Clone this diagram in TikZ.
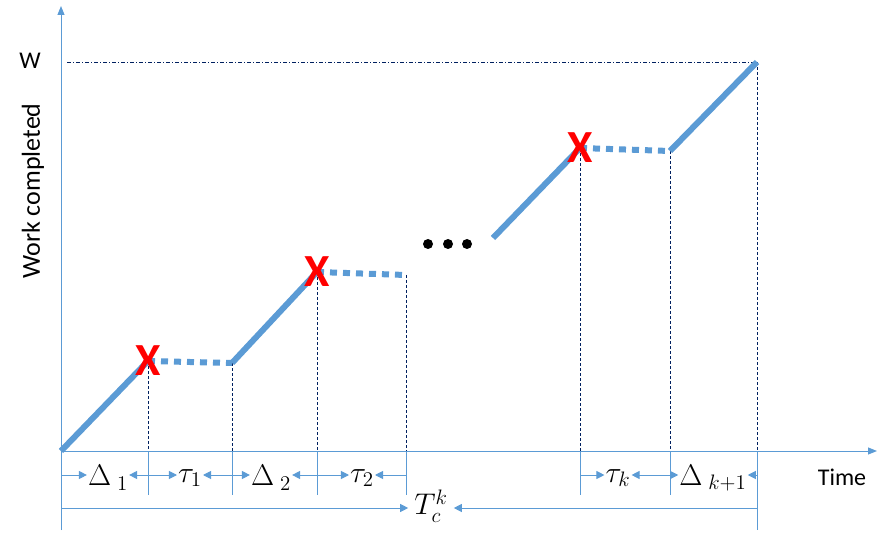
\RequirePackage{fix-cm}
\documentclass[tikz,border=0pt]{standalone}
\usepackage{fontspec}
\setmainfont{Carlito}
\usepackage{tikz}
\usetikzlibrary{arrows.meta,positioning,calc}
\definecolor{workblue}{RGB}{91,155,213}
\definecolor{guidenavy}{RGB}{0,32,96}
\definecolor{failred}{RGB}{255,0,0}
\newcommand{\mlab}[1]{\scalebox{1.3}{$#1$}}

\begin{document}
\begin{tikzpicture}[
    x=1pt, y=-1pt,
    font=\fontsize{24}{28}\selectfont,
    axisline/.style={draw=workblue, line width=1pt, -{Triangle[length=9pt,width=7pt]}},
    progress/.style={draw=workblue, line width=6pt},
    idle/.style={draw=workblue, line width=6pt, dash pattern=on 7pt off 6pt},
    guide/.style={draw=guidenavy, line width=0.8pt, dash pattern=on 3pt off 2pt},
    levelguide/.style={draw=guidenavy, line width=0.8pt, dash pattern=on 4pt off 2pt on 1pt off 2pt},
    marker/.style={draw=workblue, line width=1pt},
    spanarrow/.style={draw=workblue, line width=1pt, -{Triangle[length=8pt,width=8pt]}},
    failmark/.style={text=failred, font=\fontsize{46}{46}\selectfont\bfseries, inner sep=0pt},
    lbl/.style={font=\fontsize{23}{26}\selectfont, inner sep=1pt}
]
    \useasboundingbox (0,0) rectangle (884,540);

    \coordinate (o) at (61,451);
    \coordinate (ytop) at (61,6);
    \coordinate (ybot) at (61,530);
    \coordinate (xend) at (877,451);
    \coordinate (f1) at (148,361);
    \coordinate (r1) at (232,363);
    \coordinate (f2) at (317,272);
    \coordinate (r2) at (406,275);
    \coordinate (q) at (493,238);
    \coordinate (f3) at (580,148);
    \coordinate (r3) at (670,151);
    \coordinate (e) at (757,62);
    \coordinate (tickbot) at (61,495);
    \coordinate (arrlvl) at (61,475);
    \coordinate (totlvl) at (61,508);

    \draw[axisline] (ybot) -- (ytop);
    \draw[axisline] (o) -- (xend);
    \draw[levelguide] ([xshift=6pt]e -| o) -- (e);

    \node (wlab) at (30,61) {W};
    \node[rotate=90, font=\fontsize{26}{30}\selectfont] (ylab) at (33,191) {Work completed};
    \node (tlab) at (842,477) {Time};

    \draw[guide] (f1) -- (f1 |- o);
    \draw[guide] (r1) -- (r1 |- o);
    \draw[guide] (f2) -- (f2 |- o);
    \draw[guide] (r2) -- (r2 |- o);
    \draw[guide] (f3) -- (f3 |- o);
    \draw[guide] (r3) -- (r3 |- o);
    \draw[guide] (e) -- (e |- o);

    \draw[marker] (f1 |- o) -- (f1 |- tickbot);
    \draw[marker] (r1 |- o) -- (r1 |- tickbot);
    \draw[marker] (f2 |- o) -- (f2 |- tickbot);
    \draw[marker] (r2 |- o) -- (r2 |- tickbot);
    \draw[marker] (f3 |- o) -- (f3 |- tickbot);
    \draw[marker] (r3 |- o) -- (r3 |- tickbot);
    \draw[marker] (e |- o) -- (e |- ybot);

    \draw[progress] (o) -- (f1);
    \draw[idle] (f1) -- (r1);
    \draw[progress] (r1) -- (f2);
    \draw[idle] (f2) -- (r2);
    \draw[progress] (q) -- (f3);
    \draw[idle] (f3) -- (r3);
    \draw[progress] (r3) -- (e);

    \fill (428,244) circle (5pt) (448,244) circle (5pt) (467,244) circle (5pt);

    \node[failmark] (x1) at (f1) {X};
    \node[failmark] (x2) at (f2) {X};
    \node[failmark] (x3) at (f3) {X};

    \node[lbl] (d1) at (108,478) {\mlab{\Delta_{\;1}}};
    \node[lbl] (tau1) at (190,478) {\mlab{\tau_1}};
    \node[lbl] (d2) at (271,478) {\mlab{\Delta_{\;2}}};
    \node[lbl] (tau2) at (362,478) {\mlab{\tau_2}};
    \node[lbl] (tauk) at (618,478) {\mlab{\tau_k}};
    \node[lbl] (dk1) at (713,478) {\mlab{\Delta_{\;k+1}}};
    \node[lbl, inner sep=6pt] (tc) at (431,506) {\mlab{T_c^k}};

    \draw[spanarrow] (o |- arrlvl) -- (d1.west |- arrlvl);
    \draw[spanarrow] (f1 |- arrlvl) -- (d1.east |- arrlvl);
    \draw[spanarrow] (f1 |- arrlvl) -- (tau1.west |- arrlvl);
    \draw[spanarrow] (r1 |- arrlvl) -- (tau1.east |- arrlvl);
    \draw[spanarrow] (r1 |- arrlvl) -- (d2.west |- arrlvl);
    \draw[spanarrow] (f2 |- arrlvl) -- (d2.east |- arrlvl);
    \draw[spanarrow] (f2 |- arrlvl) -- (tau2.west |- arrlvl);
    \draw[spanarrow] (r2 |- arrlvl) -- (tau2.east |- arrlvl);
    \draw[spanarrow] (f3 |- arrlvl) -- (tauk.west |- arrlvl);
    \draw[spanarrow] (r3 |- arrlvl) -- (tauk.east |- arrlvl);
    \draw[spanarrow] (r3 |- arrlvl) -- (dk1.west |- arrlvl);
    \draw[spanarrow] (e |- arrlvl) -- (dk1.east |- arrlvl);
    \draw[spanarrow] (o |- totlvl) -- (tc.west |- totlvl);
    \draw[spanarrow] (e |- totlvl) -- (tc.east |- totlvl);
\end{tikzpicture}
\end{document}
